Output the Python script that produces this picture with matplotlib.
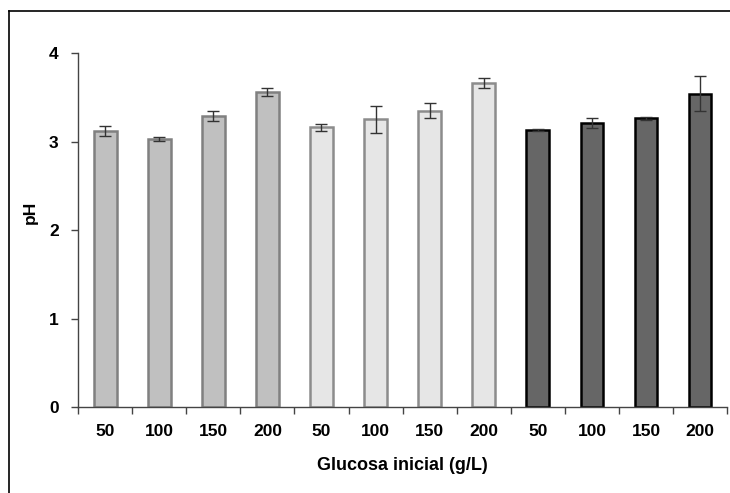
import numpy as np
import matplotlib.pyplot as plt
from matplotlib.lines import Line2D

plt.rcParams['font.family'] = ['Liberation Sans', 'DejaVu Sans']

# Data
labels = ["50", "100", "150", "200", "50", "100", "150", "200", "50", "100", "150", "200"]
ph = [3.12, 3.03, 3.29, 3.56, 3.16, 3.25, 3.35, 3.66, 3.13, 3.21, 3.26, 3.54]
err = [0.06, 0.02, 0.06, 0.05, 0.04, 0.15, 0.08, 0.06, 0.01, 0.06, 0.02, 0.20]
groups = [0, 0, 0, 0, 1, 1, 1, 1, 2, 2, 2, 2]

fills = ["#c0c0c0", "#e6e6e6", "#666666"]
edges = ["#808080", "#8c8c8c", "#000000"]

fig = plt.figure(figsize=(7.30, 4.93), dpi=100)
ax = fig.add_axes([0.107, 0.1744, 0.889, 0.7181])

x = np.arange(len(ph))
for i in x:
    g = groups[i]
    ax.bar(i, ph[i], width=0.42, color=fills[g], edgecolor=edges[g], linewidth=1.8, zorder=2)
ax.errorbar(x, ph, yerr=err, fmt="none", ecolor="#333333", elinewidth=1, capsize=4, capthick=1, zorder=3)

ax.set_xlim(-0.5, len(ph) - 0.5)
ax.set_ylim(0, 4)
ax.set_yticks([0, 1, 2, 3, 4])
ax.set_xticks(x)
ax.set_xticklabels(labels, fontsize=12.5, fontweight="bold")
ax.set_xticks(np.arange(len(ph) + 1) - 0.5, minor=True)
ax.tick_params(axis="x", which="major", length=0, pad=12)
ax.tick_params(axis="x", which="minor", length=5, width=1, color="#444444", direction="out")
ax.tick_params(axis="y", length=5, width=1, color="#444444", direction="out", labelsize=12.5, pad=9)
for t in ax.get_yticklabels():
    t.set_fontweight("bold")

for s in ["top", "right"]:
    ax.spines[s].set_visible(False)
for s in ["left", "bottom"]:
    ax.spines[s].set_color("#444444")
    ax.spines[s].set_linewidth(1)

ax.set_xlabel("Glucosa inicial (g/L)", fontsize=13, fontweight="bold", labelpad=13)
ax.set_ylabel("pH", fontsize=12.5, fontweight="bold")
ax.yaxis.set_label_coords(-0.062, 0.55)

# outer frame (cropped at right and bottom)
fig.add_artist(Line2D([9 / 730, 9 / 730], [0, 1 - 11 / 493], color="black", lw=1.2))
fig.add_artist(Line2D([9 / 730, 1], [1 - 11 / 493, 1 - 11 / 493], color="black", lw=1.2))

fig.savefig("out.png", dpi=100)
